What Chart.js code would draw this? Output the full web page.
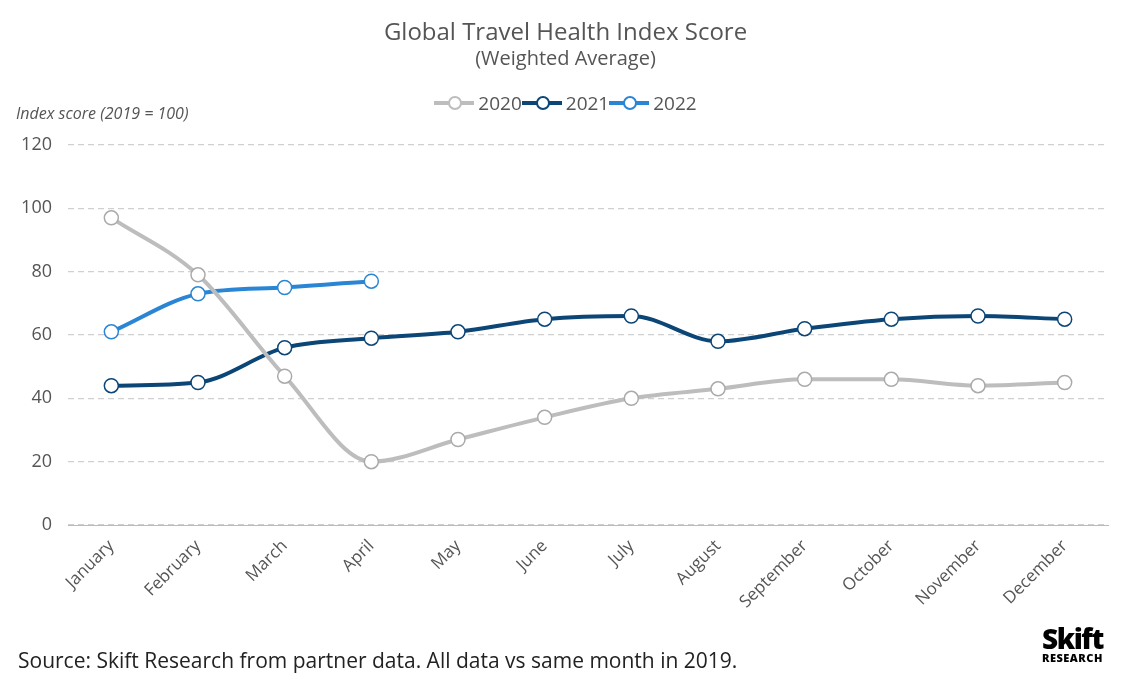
<!DOCTYPE html>
<html><head><meta charset="utf-8">
<script src="https://cdn.jsdelivr.net/npm/chart.js@4/dist/chart.umd.min.js"></script>
<style>
body{margin:0;width:1131px;height:686px;background:#fff;font-family:"Open Sans",sans-serif;overflow:hidden}
#wrap{position:relative;width:1131px;height:686px}
.t{position:absolute;color:#555;white-space:nowrap}
.leg{display:inline-flex;align-items:center;margin:0 0px;font-size:19px;color:#555}
.leg i{display:inline-block;position:relative;width:40px;height:4px;margin-right:4px}
.leg i b{position:absolute;left:14px;top:-5px;width:10px;height:10px;border-radius:50%;background:#fff;border:2px solid}
</style></head><body>
<div id="wrap">
<canvas id="c" width="1131" height="686"></canvas>
<div class="t" style="left:0;width:1131px;top:14px;text-align:center;font-size:24px">Global Travel Health Index Score</div>
<div class="t" style="left:0;width:1131px;top:44px;text-align:center;font-size:20px">(Weighted Average)</div>
<div class="t" id="legend" style="left:0;width:1131px;top:88px;text-align:center"></div>
<div class="t" style="left:16px;top:102px;font-size:16px;font-style:italic">Index score (2019 = 100)</div>
<div class="t" style="left:18px;top:646px;font-size:21px;color:#222">Source: Skift Research from partner data. All data vs same month in 2019.</div>
<div class="t" style="left:1042px;top:624px;color:#000;text-align:center;line-height:1">
<div style="font-size:28px;font-weight:900;letter-spacing:-1.5px">Skift</div>
<div style="font-size:11px;font-weight:800;letter-spacing:0.5px">RESEARCH</div></div>
</div>
<script>
const months = ['January','February','March','April','May','June','July','August','September','October','November','December'];
const y2020 = [97, 79, 47, 20, 27, 34, 40, 43, 46, 46, 44, 45];
const y2021 = [44, 45, 56, 59, 61, 65, 66, 58, 62, 65, 66, 65];
const y2022 = [61, 73, 75, 77];
const series = [
  {label:'2020', data:y2020, color:'#bdbdbd'},
  {label:'2021', data:y2021, color:'#0c4677'},
  {label:'2022', data:y2022, color:'#2a86d4'}
];

document.getElementById('legend').innerHTML = series.map(s =>
  `<span class="leg"><i style="background:${s.color}"><b style="border-color:${s.color}"></b></i>${s.label}</span>`).join('');

new Chart(document.getElementById('c'), {
  type: 'line',
  data: {
    labels: months,
    datasets: series.map(s => ({
      label: s.label, data: s.data, borderColor: s.color, borderWidth: 4,
      pointRadius: 7, pointBorderWidth: 1.5, pointBackgroundColor: '#fff',
      pointBorderColor: s.color === '#bdbdbd' ? '#aaa' : s.color,
      tension: 0.4, cubicInterpolationMode: 'monotone'
    }))
  },
  options: {
    responsive: false, animation: false,
    layout: {padding: {top: 145, right: 23, left: 0, bottom: 0}},
    plugins: {legend: {display: false}, tooltip: {enabled: false}},
    scales: {
      x: {
        offset: true,
        grid: {display: false},
        border: {color: '#bbb'},
        ticks: {color: '#555', font: {family: 'Open Sans', size: 17}, maxRotation: 45, minRotation: 45, autoSkip: false},
        afterFit: a => { a.height = 161; }
      },
      y: {
        min: 0, max: 120,
        ticks: {stepSize: 20, color: '#555', font: {family: 'Open Sans', size: 18}, padding: 16},
        grid: {color: '#d0d0d0', lineWidth: 1.2, tickLength: 0, drawTicks: false},
        border: {display: false, dash: [6, 4]},
        afterFit: a => { a.width = 68; }
      }
    }
  }
});
</script>
</body></html>
